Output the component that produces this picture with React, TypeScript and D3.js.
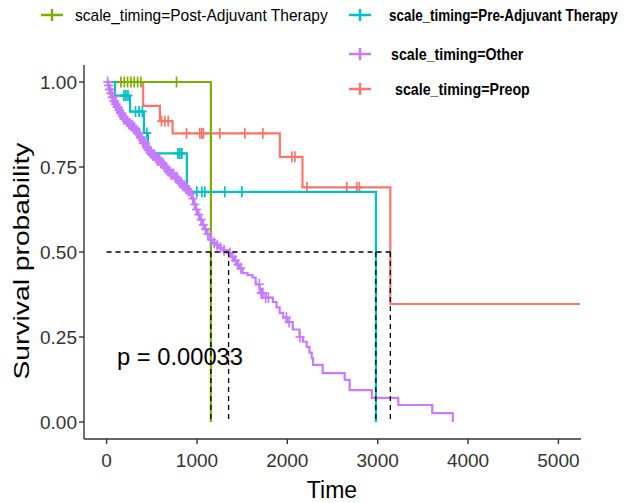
import React from 'react'
import * as d3 from 'd3'

const groupNames = ['Post-Adjuvant Therapy', 'Pre-Adjuvant Therapy', 'Other', 'Preop']
const groupColors = ['#7CAE00', '#00BFC4', '#C77CFF', '#F8766D']

// Post-Adjuvant Therapy
const postTimes = [0, 1154]
const postSurv = [1, 0]
const postCensor = [159, 196, 232, 270, 306, 343, 380, 774]

// Pre-Adjuvant Therapy
const preTimes = [0, 93, 259, 413, 457, 888, 2980]
const preSurv = [1, 0.96, 0.913, 0.85, 0.79, 0.677, 0]
const preCensor = [192, 214, 237, 320, 360, 395, 445, 789, 811, 833, 999, 1054, 1087, 1308, 1497]

// Other
const otherTimes = [
  0, 15, 30, 45, 60, 75, 92, 110, 130, 150, 170, 190, 215, 240, 265, 290, 315, 340, 365, 385,
  405, 430, 455, 480, 505, 535, 560, 590, 620, 650, 680, 710, 745, 780, 810, 840, 870, 900,
  925, 945, 965, 985, 1005, 1030, 1055, 1080, 1105, 1140, 1170, 1205, 1240, 1290, 1350, 1380,
  1410, 1440, 1470, 1505, 1560, 1615, 1650, 1695, 1760, 1840, 1880, 1915, 1955, 1995, 2060,
  2135, 2175, 2215, 2245, 2270, 2285, 2392, 2635, 2690, 2935, 3228, 3604, 3831
]
const otherSurv = [
  1, 0.99, 0.978, 0.967, 0.955, 0.944, 0.935, 0.926, 0.917, 0.908, 0.899, 0.891, 0.884, 0.877,
  0.871, 0.866, 0.858, 0.849, 0.838, 0.829, 0.82, 0.81, 0.8, 0.792, 0.785, 0.778, 0.77, 0.763,
  0.755, 0.747, 0.738, 0.729, 0.72, 0.711, 0.703, 0.695, 0.687, 0.68, 0.672, 0.657, 0.64, 0.625,
  0.61, 0.595, 0.58, 0.567, 0.553, 0.536, 0.527, 0.52, 0.512, 0.505, 0.497, 0.486, 0.475, 0.463,
  0.452, 0.438, 0.432, 0.425, 0.405, 0.379, 0.366, 0.353, 0.337, 0.321, 0.307, 0.294, 0.272,
  0.25, 0.236, 0.221, 0.204, 0.188, 0.168, 0.144, 0.124, 0.094, 0.071, 0.05, 0.026, 0
]
const otherCensor = [
  12, 22, 30, 38, 47, 55, 62, 68, 80, 88, 98, 105, 114, 120, 128, 138, 145, 153, 160, 168, 178,
  185, 193, 200, 210, 225, 232, 244, 250, 260, 270, 278, 288, 300, 310, 322, 330, 340, 350, 360,
  372, 380, 395, 405, 415, 428, 440, 448, 460, 470, 482, 495, 508, 520, 532, 545, 560, 575, 588,
  600, 618, 635, 650, 665, 680, 695, 710, 725, 742, 760, 778, 795, 812, 830, 845, 860, 875, 890,
  905, 915, 935, 955, 975, 995, 1020, 1045, 1070, 1095, 1120, 1160, 1190, 1225, 1260, 1300,
  1365, 1395, 1425, 1455, 1485, 1690, 1710, 1720, 1730, 1760, 1790, 1990, 2020, 2140
]

// Preop
const preopTimes = [0, 405, 590, 730, 1917, 2168, 3140]
const preopSurv = [1, 0.93, 0.885, 0.849, 0.78, 0.69, 0.347]
const preopCensor = [608, 645, 682, 885, 1032, 1054, 1071, 1253, 1530, 1729, 2050, 2084, 2217, 2658, 2769, 2797]

const lastFollowUp = [1154, 2980, 3831, 5240]

const xTicks = [0, 1000, 2000, 3000, 4000, 5000]
const yTicks = [0, 0.25, 0.5, 0.75, 1]
const yTickLabels = ['0.00', '0.25', '0.50', '0.75', '1.00']
const pValueLabel = 'p = 0.00033'

const allTimes = [postTimes, preTimes, otherTimes, preopTimes]
const allSurv = [postSurv, preSurv, otherSurv, preopSurv]
const allCensor = [postCensor, preCensor, otherCensor, preopCensor]

const font = '"Liberation Sans", Arial, sans-serif'

function survAt(times, surv, t) {
  const i = d3.bisectRight(times, t) - 1
  return surv[Math.max(0, i)]
}

function App() {
  const width = 631
  const height = 503

  const x = d3.scaleLinear().domain([-250, 5250]).range([84, 581])
  const y = d3.scaleLinear().domain([-0.05, 1.05]).range([439, 65])

  const line = d3
    .line()
    .x(d => x(d[0]))
    .y(d => y(d[1]))
    .curve(d3.curveStepAfter)

  const curves = groupNames.map((name, g) => {
    const pts = allTimes[g].map((t, i) => [t, allSurv[g][i]])
    const last = pts[pts.length - 1]
    if (last[0] < lastFollowUp[g]) pts.push([lastFollowUp[g], last[1]])
    const marks = allCensor[g].map(t => [t, survAt(allTimes[g], allSurv[g], t)])
    const mi = allSurv[g].findIndex(s => s <= 0.5)
    const median = mi >= 0 ? allTimes[g][mi] : null
    return { name, color: groupColors[g], path: line(pts), marks, median }
  })

  const drawOrder = [3, 0, 1, 2]
  const medians = curves.map(c => c.median).filter(m => m != null)
  const maxMedian = d3.max(medians)

  // sx squeezes the text horizontally (the reference legend type is condensed)
  const legend = [
    { g: 0, kx: 52, ky: 15, tx: 75, ty: 21, sx: 0.97, bold: false },
    { g: 1, kx: 360, ky: 15, tx: 389, ty: 21, sx: 0.84, bold: true },
    { g: 2, kx: 360, ky: 54, tx: 391, ty: 60, sx: 0.89, bold: true },
    { g: 3, kx: 360, ky: 89, tx: 395, ty: 95, sx: 0.89, bold: true }
  ]

  return (
    <svg
      width={width}
      height={height}
      style={{ position: 'absolute', left: 0, top: 0, background: '#fff' }}
      fontFamily={font}
    >
      <rect width={width} height={height} fill="#fff" />

      {drawOrder.map(g => {
        const c = curves[g]
        return (
          <g key={c.name}>
            <path d={c.path} fill="none" stroke={c.color} strokeWidth={2.2} />
            {c.marks.map((m, i) => (
              <g key={i} stroke={c.color} strokeWidth={1.7}>
                <line x1={x(m[0])} x2={x(m[0])} y1={y(m[1]) - 5.5} y2={y(m[1]) + 5.5} />
                <line x1={x(m[0]) - 4.5} x2={x(m[0]) + 4.5} y1={y(m[1])} y2={y(m[1])} />
              </g>
            ))}
          </g>
        )
      })}

      <text x={117} y={365} fontSize={24} fill="#000" textLength={126} lengthAdjust="spacingAndGlyphs">
        {pValueLabel}
      </text>

      <g stroke="#000" strokeWidth={1.3} strokeDasharray="5,4">
        <line x1={x(0)} x2={x(maxMedian)} y1={y(0.5)} y2={y(0.5)} />
        {medians.map((m, i) => (
          <line key={i} x1={x(m)} x2={x(m)} y1={y(0.5)} y2={y(0)} />
        ))}
      </g>

      <g stroke="#333" strokeWidth={1.4}>
        <line x1={84} x2={84} y1={65} y2={439} />
        <line x1={84} x2={581} y1={439} y2={439} />
        {yTicks.map(t => (
          <line key={t} x1={79} x2={84} y1={y(t)} y2={y(t)} />
        ))}
        {xTicks.map(t => (
          <line key={t} x1={x(t)} x2={x(t)} y1={439} y2={444} />
        ))}
      </g>

      {yTicks.map((t, i) => (
        <text key={t} x={77} y={y(t) + 7} fontSize={19} fill="#333" textAnchor="end">
          {yTickLabels[i]}
        </text>
      ))}
      {xTicks.map(t => (
        <text key={t} x={x(t)} y={467} fontSize={19} fill="#333" textAnchor="middle">
          {t}
        </text>
      ))}

      <text x={332} y={498} fontSize={23} fill="#000" textAnchor="middle">
        Time
      </text>
      <text
        transform="translate(29,261) scale(0.85,1) rotate(-90)"
        fontSize={27}
        fill="#000"
        textAnchor="middle"
        textLength={237}
        lengthAdjust="spacingAndGlyphs"
      >
        Survival probability
      </text>

      {legend.map(l => (
        <g key={l.g}>
          <g stroke={groupColors[l.g]} strokeWidth={2.5}>
            <line x1={l.kx - 11} x2={l.kx + 11} y1={l.ky} y2={l.ky} />
            <line x1={l.kx} x2={l.kx} y1={l.ky - 6} y2={l.ky + 6} />
          </g>
          <text
            transform={`translate(${l.tx},${l.ty}) scale(${l.sx},1)`}
            fontSize={16}
            fontWeight={l.bold ? 'bold' : 'normal'}
            fill="#000"
          >
            {'scale_timing=' + groupNames[l.g]}
          </text>
        </g>
      ))}
    </svg>
  )
}

export default App
